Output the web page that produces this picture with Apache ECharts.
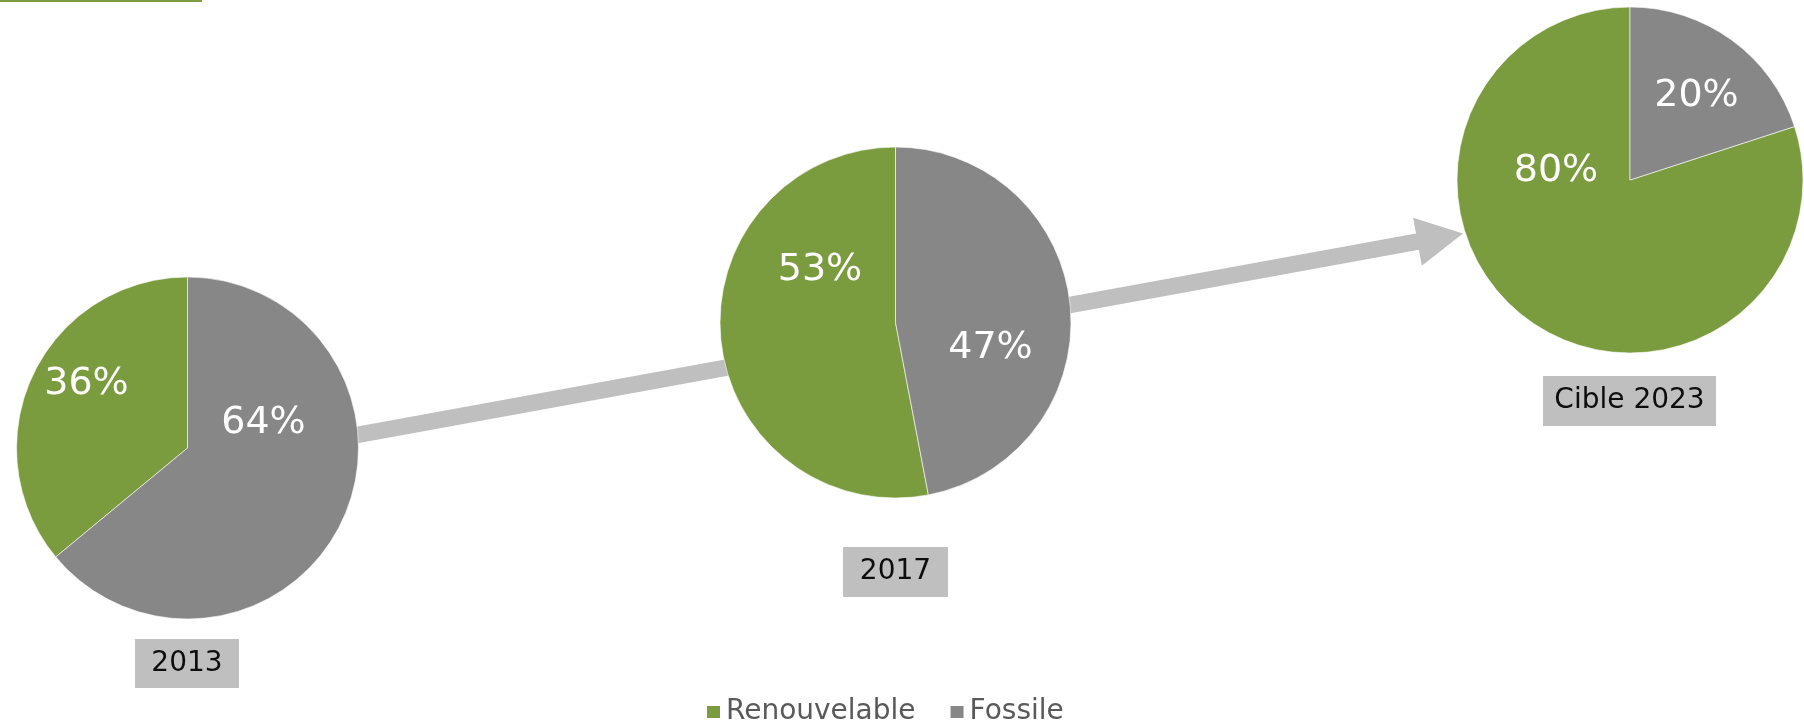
<!DOCTYPE html>
<html>
<head>
<meta charset="utf-8">
<script src="https://cdn.jsdelivr.net/npm/echarts@6/dist/echarts.min.js"></script>
<style>
  html, body { margin: 0; padding: 0; background: #ffffff; }
  #chart { width: 1804px; height: 725px; }
</style>
</head>
<body>
<div id="chart"></div>
<script>
// ---- data ----
const categories = ['2013', '2017', 'Cible 2023'];
const seriesNames = ['Renouvelable', 'Fossile'];
const renouvelable = [36, 53, 80];
const fossile = [64, 47, 20];

// ---- layout / style (kept apart from data) ----
const GREEN = '#7a9c3e';
const GRAY = '#878787';
const pieCenters = [[187.5, 448], [895.5, 322.5], [1630, 180]];
const pieRadii = [171, 175.5, 173];
// label offsets from pie centre: [renouvelable, fossile]
const labelOffsets = [
  [[-101, -64], [76, -25]],
  [[-75.5, -52.5], [95, 26]],
  [[-74, -9], [66.5, -84]]
];
// year caption boxes: centre x, centre y, width, height
const captionBoxes = [[187, 663.5, 104, 49], [895.5, 572, 105, 50], [1629.5, 401, 173, 50]];

const FONT = '"DejaVu Sans", Verdana, sans-serif';

const series = categories.map((cat, i) => ({
  type: 'pie',
  name: cat,
  center: pieCenters[i],
  radius: pieRadii[i],
  startAngle: 90,
  clockwise: false,
  silent: true,
  z: 5,
  itemStyle: { borderColor: '#ffffff', borderWidth: 0.6 },
  label: {
    show: true,
    position: 'center',
    formatter: '{c}%',
    color: '#ffffff',
    fontFamily: FONT,
    fontSize: 38
  },
  labelLine: { show: false },
  emphasis: { disabled: true },
  data: [
    { name: seriesNames[0], value: renouvelable[i], itemStyle: { color: GREEN }, label: { offset: labelOffsets[i][0] } },
    { name: seriesNames[1], value: fossile[i], itemStyle: { color: GRAY }, label: { offset: labelOffsets[i][1] } }
  ]
}));

// arrow geometry (decoration)
const arrowPts = [
  [298.5, 437.3], [1416.0, 233.6], [1413.1, 217.7], [1463, 233.4],
  [1421.8, 265.7], [1418.9, 249.8], [301.5, 453.5]
];

const graphics = [
  { type: 'rect', z: 0, shape: { x: 0, y: 0, width: 202, height: 2 }, style: { fill: GREEN } },
  { type: 'polygon', z: 0, shape: { points: arrowPts }, style: { fill: '#bfbfbf' } }
];
categories.forEach((cat, i) => {
  const [cx, cy, w, h] = captionBoxes[i];
  graphics.push({
    type: 'rect', z: 1,
    shape: { x: cx - w / 2, y: cy - h / 2, width: w, height: h },
    style: { fill: '#bfbfbf' }
  });
  graphics.push({
    type: 'text', z: 2,
    x: cx, y: cy,
    style: {
      text: cat, fill: '#0d0d0d', font: '28px ' + FONT,
      textAlign: 'center', textVerticalAlign: 'middle'
    }
  });
});

const chart = echarts.init(document.getElementById('chart'), null, { renderer: 'canvas' });
chart.setOption({
  animation: false,
  backgroundColor: '#ffffff',
  legend: {
    data: seriesNames,
    left: 705,
    top: 698,
    padding: 0,
    icon: 'rect',
    itemWidth: 15,
    itemHeight: 14,
    itemGap: 33,
    selectedMode: false,
    textStyle: { color: '#595959', fontFamily: FONT, fontSize: 28 }
  },
  graphic: graphics,
  series: series
});
</script>
</body>
</html>
